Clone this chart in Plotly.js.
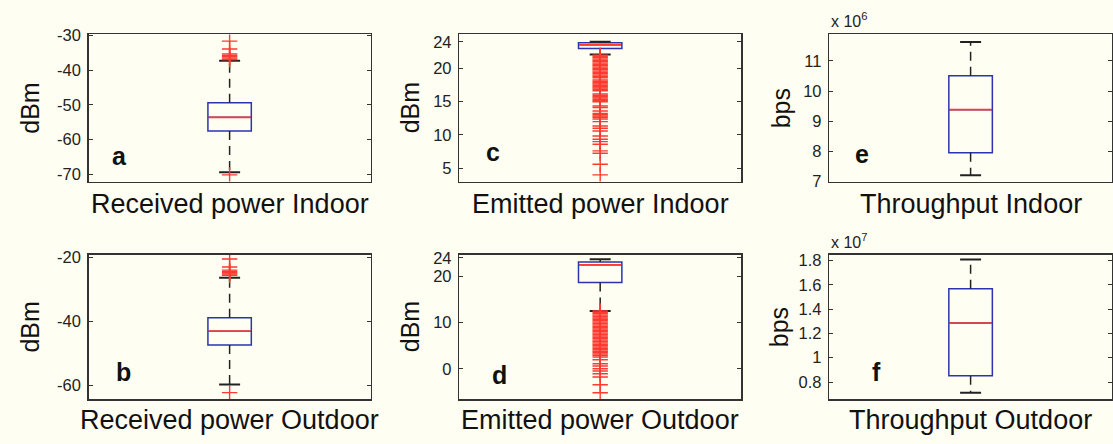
<!DOCTYPE html>
<html>
<head>
<meta charset="utf-8">
<script src="https://cdn.plot.ly/plotly-3.0.1.min.js"></script>
<style>html,body{margin:0;padding:0;background:#fffef2;}#chart{width:1113px;height:444px;}</style>
</head>
<body>
<div id="chart"></div>
<script>
// ---- data ----
const categories = ['Received power Indoor', 'Emitted power Indoor', 'Throughput Indoor',
                    'Received power Outdoor', 'Emitted power Outdoor', 'Throughput Outdoor'];
const panelLetters = ['a', 'c', 'e', 'b', 'd', 'f'];
const units = ['dBm', 'dBm', 'bps', 'dBm', 'dBm', 'bps'];

const q1 = [-57.5, 23.0, 7.95e6, -47.3, 18.65, 0.852e7];
const medians = [-53.6, 23.55, 9.38e6, -43.0, 22.5, 1.285e7];
const q3 = [-49.4, 23.85, 10.51e6, -38.8, 23.1, 1.567e7];
const lowerWhisker = [-69.4, 22.1, 7.2e6, -59.7, 12.5, 0.712e7];
const upperWhisker = [-37.3, 24.0, 11.63e6, -26.3, 23.7, 1.808e7];

const outliersA = [-31.6, -33.9, -35.3, -35.7, -36.1, -36.5, -36.9, -70.2];
const outliersC = [22.0, 21.8, 21.6, 21.4, 21.2, 21.0, 20.8, 20.6, 20.4, 20.2, 20.0, 19.8, 19.6, 19.4,
                   19.2, 19.0, 18.8, 18.6, 18.25, 18.05, 17.85, 17.65, 17.45, 17.25, 17.05, 16.85, 16.65,
                   16.15, 15.95, 15.75, 15.55, 15.35, 15.15, 15.0, 14.35, 14.1, 13.6, 13.25, 13.05, 12.85,
                   12.65, 12.4, 12.0, 11.35, 11.0, 10.6, 9.85, 9.35, 9.0, 8.6, 7.6, 7.25, 5.6, 4.0];
const outliersE = [];
const outliersB = [-20.4, -22.9, -23.9, -24.3, -24.7, -25.1, -25.5, -62.2];
const outliersD = [12.5, 12.2, 11.9, 11.6, 11.3, 11.0, 10.7, 10.4, 10.1, 9.8, 9.5, 9.2, 8.9, 8.6, 8.3,
                   8.0, 7.7, 7.4, 7.1, 6.8, 6.5, 6.2, 5.9, 5.6, 5.3, 5.0, 4.7, 4.4, 4.1, 3.8, 3.5, 3.2, 2.9,
                   2.53, 1.95, 1.08, 0.58, 0.0, -0.5, -1.08, -1.8, -3.46, -5.19];
const outliersF = [];
const outliers = [outliersA, outliersC, outliersE, outliersB, outliersD, outliersF];

const yTickVals = [[-70, -60, -50, -40, -30], [5, 10, 15, 20, 24], [7e6, 8e6, 9e6, 10e6, 11e6],
                   [-60, -40, -20], [0, 10, 20, 24], [0.8e7, 1.0e7, 1.2e7, 1.4e7, 1.6e7, 1.8e7]];
const yTickText = [['-70', '-60', '-50', '-40', '-30'], ['5', '10', '15', '20', '24'], ['7', '8', '9', '10', '11'],
                   ['-60', '-40', '-20'], ['0', '10', '20', '24'], ['0.8', '1', '1.2', '1.4', '1.6', '1.8']];
const exponentLabels = ['', '', 'x 10<sup>6</sup>', '', '', 'x 10<sup>7</sup>'];

// ---- layout / style ----
const yRanges = [[-72.1, -29.7], [3.0, 25.1], [6.99e6, 11.88e6], [-64.3, -19.0], [-6.62, 24.74], [0.658e7, 1.849e7]];
const xDomains = [[0.0797, 0.3329], [0.4127, 0.6658], [0.7451, 0.999]];
const yDomains = [[0.5912, 0.9223], [0.1007, 0.4268]];
const yTitleShift = [-59, -49, -48, -59, -49, -50];
const xTitleShift = [-22.5, -22.5, -22.5, -21, -21, -21];
const letterPos = [[0.108, 0.175], [0.119, 0.203], [0.114, 0.19], [0.123, 0.19], [0.144, 0.17], [0.167, 0.19]];

const FONT = 'Liberation Sans, Arial, sans-serif';
const BLUE = '#2b33b0', RED = '#ff3a30', DARK = '#222222';
const BOXW = 0.154;

const traces = [];
const layout = {
  width: 1113, height: 444,
  margin: {l: 0, r: 0, t: 0, b: 0},
  paper_bgcolor: '#fffef2', plot_bgcolor: '#fffef2',
  showlegend: false, boxmode: 'overlay',
  font: {family: FONT, color: DARK},
  annotations: []
};

for (let i = 0; i < 6; i++) {
  const n = i + 1;
  const xa = 'x' + (n === 1 ? '' : n), ya = 'y' + (n === 1 ? '' : n);
  const xk = 'xaxis' + (n === 1 ? '' : n), yk = 'yaxis' + (n === 1 ? '' : n);
  const col = i % 3, row = Math.floor(i / 3);

  layout[xk] = {domain: xDomains[col], anchor: ya, range: [0.5, 1.5], showticklabels: false, ticks: '',
    showgrid: false, zeroline: false, showline: true, mirror: true, linecolor: '#333', linewidth: 1.5, fixedrange: true};
  layout[yk] = {domain: yDomains[row], anchor: xa, range: yRanges[i], tickvals: yTickVals[i], ticktext: yTickText[i],
    ticks: 'inside', ticklen: 4, tickwidth: 1, tickcolor: '#333', showgrid: false, zeroline: false,
    showline: true, mirror: 'ticks', linecolor: '#333', linewidth: 1.5,
    tickfont: {family: FONT, size: 16.5, color: DARK}, ticklabelstandoff: 3, fixedrange: true};

  // whiskers (dashed)
  traces.push({type: 'scatter', mode: 'lines', xaxis: xa, yaxis: ya, hoverinfo: 'skip',
    x: [1, 1, null, 1, 1], y: [q3[i], upperWhisker[i], null, q1[i], lowerWhisker[i]],
    line: {color: DARK, width: 1.5, dash: '9px,6px'}});
  // box
  traces.push({type: 'box', xaxis: xa, yaxis: ya, x: [1], q1: [q1[i]], median: [medians[i]], q3: [q3[i]],
    lowerfence: [q1[i]], upperfence: [q3[i]], width: BOXW, whiskerwidth: 0, boxpoints: false,
    line: {color: BLUE, width: 1.5}, fillcolor: 'rgba(0,0,0,0)', hoverinfo: 'skip'});
  // median (red bar over the box's median)
  traces.push({type: 'scatter', mode: 'markers', xaxis: xa, yaxis: ya, hoverinfo: 'skip',
    x: [1], y: [medians[i]],
    marker: {symbol: 'line-ew', size: 30.2, line: {color: RED, width: 1.8}}});
  // whisker caps
  traces.push({type: 'scatter', mode: 'markers', xaxis: xa, yaxis: ya, hoverinfo: 'skip',
    x: [1, 1], y: [upperWhisker[i], lowerWhisker[i]],
    marker: {symbol: 'line-ew', size: 15, line: {color: DARK, width: 2}}});
  // outliers
  if (outliers[i].length) {
    traces.push({type: 'scatter', mode: 'markers', xaxis: xa, yaxis: ya, hoverinfo: 'skip',
      x: outliers[i].map(() => 1), y: outliers[i],
      marker: {symbol: 'cross-thin', size: 11, color: RED, line: {color: RED, width: 1.4}}});
  }

  // x title
  layout.annotations.push({xref: xa + ' domain', yref: ya + ' domain', x: 0.5, y: 0, xanchor: 'center', yanchor: 'middle',
    yshift: xTitleShift[i], text: categories[i], showarrow: false, font: {family: FONT, size: 27, color: '#111'}});
  // y title
  layout.annotations.push({xref: xa + ' domain', yref: ya + ' domain', x: 0, y: 0.5, xanchor: 'center', yanchor: 'middle',
    xshift: yTitleShift[i], textangle: -90, text: units[i], showarrow: false, font: {family: FONT, size: 25, color: '#111'}});
  // panel letter
  layout.annotations.push({xref: xa + ' domain', yref: ya + ' domain', x: letterPos[i][0], y: letterPos[i][1],
    xanchor: 'center', yanchor: 'middle', text: '<b>' + panelLetters[i] + '</b>', showarrow: false,
    font: {family: FONT, size: 25, color: '#111'}});
  // exponent label
  if (exponentLabels[i]) {
    layout.annotations.push({xref: xa + ' domain', yref: ya + ' domain', x: 0, y: 1, xanchor: 'left', yanchor: 'bottom',
      yshift: 2, text: exponentLabels[i], showarrow: false, font: {family: FONT, size: 16, color: DARK}});
  }
}

Plotly.newPlot('chart', traces, layout, {staticPlot: true, displayModeBar: false});
</script>
</body>
</html>
